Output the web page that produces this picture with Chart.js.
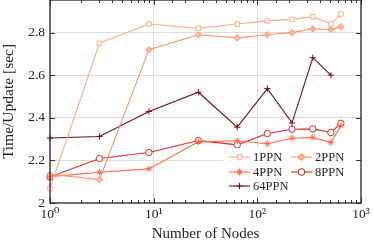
<!DOCTYPE html>
<html>
<head>
<meta charset="utf-8">
<script src="https://cdn.jsdelivr.net/npm/chart.js@4/dist/chart.umd.min.js"></script>
<style>
  html, body { margin: 0; padding: 0; background: #fff; }
  #wrap { width: 374px; height: 243px; }
</style>
</head>
<body>
<div id="wrap"><canvas id="timeChart" width="374" height="243"></canvas></div>
<script>
// Values
const nodes = [1, 3, 9, 27, 64, 125, 216, 343, 512, 640];
const ppn1 = [2.068, 2.75, 2.84, 2.82, 2.84, 2.855, 2.862, 2.875, 2.84, 2.887];
const ppn2 = [2.135, 2.11, 2.72, 2.79, 2.775, 2.79, 2.80, 2.818, 2.814, 2.828];
const ppn4 = [2.124, 2.144, 2.16, 2.287, 2.292, 2.278, 2.304, 2.308, 2.284, 2.363];
const ppn8 = [2.122, 2.209, 2.237, 2.293, 2.273, 2.326, 2.346, 2.348, 2.331, 2.374];
const ppn64 = [2.305, 2.312, 2.43, 2.52, 2.356, 2.537, 2.376, 2.682, 2.60, null];
const yTicks = [2, 2.2, 2.4, 2.6, 2.8];
const xTickLabels = ['10\u2070', '10\u00b9', '10\u00b2', '10\u00b3'];

const FONT = "'Liberation Serif', 'DejaVu Serif', serif";

function pairs(ys) {
  return nodes.map((n, i) => ({ x: n, y: ys[i] })).filter(p => p.y !== null);
}

function series(label, ys, color, style, fill) {
  return {
    label: label,
    data: pairs(ys),
    borderColor: color,
    backgroundColor: fill,
    borderWidth: 1.1,
    pointStyle: style,
    pointRadius: 3.2,
    pointBorderWidth: 1,
    pointBorderColor: color,
    pointBackgroundColor: fill,
    tension: 0,
    clip: 8
  };
}

const datasets = [
  series('1PPN', ppn1, '#fcae91', 'rect', '#ffffff'),
  series('2PPN', ppn2, '#fc9272', 'rectRot', '#fcbba1'),
  series('4PPN', ppn4, '#fb6a4a', 'star', '#fb6a4a'),
  series('8PPN', ppn8, '#d92b2b', 'circle', '#ffffff'),
  series('64PPN', ppn64, '#6e0f1f', 'cross', '#6e0f1f')
];

function isPow10(v) {
  const l = Math.log10(v);
  return Math.abs(l - Math.round(l)) < 1e-9;
}

// frame, inward ticks and the legend box inside the plot
const framePlugin = {
  id: 'frame',
  afterDraw(chart) {
    const ctx = chart.ctx;
    const a = chart.chartArea;
    const xs = chart.scales.x;
    const ys = chart.scales.y;
    ctx.save();
    ctx.strokeStyle = '#333';
    ctx.lineWidth = 1;
    xs.ticks.forEach(t => {
      const px = Math.round(xs.getPixelForValue(t.value)) + 0.5;
      const len = isPow10(t.value) ? 5 : 3;
      ctx.beginPath();
      ctx.moveTo(px, a.bottom); ctx.lineTo(px, a.bottom - len);
      ctx.moveTo(px, a.top); ctx.lineTo(px, a.top + len);
      ctx.stroke();
    });
    yTicks.forEach(v => {
      const py = Math.round(ys.getPixelForValue(v)) + 0.5;
      ctx.beginPath();
      ctx.moveTo(a.left, py); ctx.lineTo(a.left + 5, py);
      ctx.moveTo(a.right, py); ctx.lineTo(a.right - 5, py);
      ctx.stroke();
    });
    ctx.strokeStyle = '#222';
    ctx.lineWidth = 1.3;
    ctx.strokeRect(a.left, a.top, a.right - a.left, a.bottom - a.top);

    // legend
    const box = { x: a.right - 137, y: a.bottom - 55, w: 132, h: 48 };
    ctx.fillStyle = '#fff';
    ctx.fillRect(box.x, box.y, box.w, box.h);
    const cols = [box.x + 5, box.x + 67];
    const rows = [box.y + 9, box.y + 24, box.y + 38];
    ctx.font = '12.5px ' + FONT;
    ctx.textBaseline = 'middle';
    chart.data.datasets.forEach((ds, i) => {
      const x0 = cols[i % 2];
      const y0 = rows[Math.floor(i / 2)];
      ctx.strokeStyle = ds.borderColor;
      ctx.lineWidth = ds.borderWidth;
      ctx.beginPath();
      ctx.moveTo(x0, y0); ctx.lineTo(x0 + 21, y0);
      ctx.stroke();
      ctx.fillStyle = ds.pointBackgroundColor;
      Chart.helpers.drawPoint(ctx, {
        pointStyle: ds.pointStyle,
        radius: ds.pointRadius,
        rotation: 0,
        borderWidth: ds.pointBorderWidth
      }, x0 + 10.5, y0);
      ctx.fillStyle = '#222';
      ctx.textAlign = 'left';
      ctx.fillText(ds.label, x0 + 24, y0 + 1);
    });
    ctx.restore();
  }
};

new Chart(document.getElementById('timeChart'), {
  type: 'line',
  data: { datasets: datasets },
  options: {
    responsive: false,
    animation: false,
    layout: { autoPadding: false, padding: { top: 0, right: 13, left: 0, bottom: 0 } },
    plugins: {
      legend: { display: false },
      tooltip: { enabled: false }
    },
    scales: {
      x: {
        type: 'logarithmic',
        min: 1,
        max: 1000,
        afterFit(scale) {
          scale.height = 40;
          scale.paddingLeft = 0;
          scale.paddingRight = 0;
        },
        grid: {
          drawTicks: false,
          color: ctx => (ctx.tick && isPow10(ctx.tick.value) && ctx.tick.value > 1 && ctx.tick.value < 1000) ? '#dcdcdc' : 'rgba(0,0,0,0)'
        },
        border: { display: false },
        ticks: {
          autoSkip: false,
          maxRotation: 0,
          padding: 3,
          color: '#222',
          font: { family: FONT, size: 13.5 },
          callback: function(v) {
            if (!isPow10(v)) return '';
            return xTickLabels[Math.round(Math.log10(v))];
          }
        },
        title: {
          display: true,
          text: 'Number of Nodes',
          color: '#222',
          padding: { top: 0, bottom: 0 },
          font: { family: FONT, size: 15 }
        }
      },
      y: {
        min: 2,
        max: 2.953,
        afterFit(scale) {
          scale.width = 50;
          scale.paddingTop = 0;
          scale.paddingBottom = 0;
        },
        afterBuildTicks(scale) { scale.ticks = yTicks.map(v => ({ value: v })); },
        grid: {
          drawTicks: false,
          color: ctx => (ctx.tick && ctx.tick.value > 2) ? '#dcdcdc' : 'rgba(0,0,0,0)'
        },
        border: { display: false },
        ticks: {
          padding: 5,
          color: '#222',
          font: { family: FONT, size: 13.5 },
          callback: v => (v === 2 ? '2' : v.toFixed(1))
        },
        title: {
          display: true,
          text: 'Time/Update [sec]',
          color: '#222',
          padding: { top: 0, bottom: 2 },
          font: { family: FONT, size: 15.5 }
        }
      }
    }
  },
  plugins: [framePlugin]
});
</script>
</body>
</html>
